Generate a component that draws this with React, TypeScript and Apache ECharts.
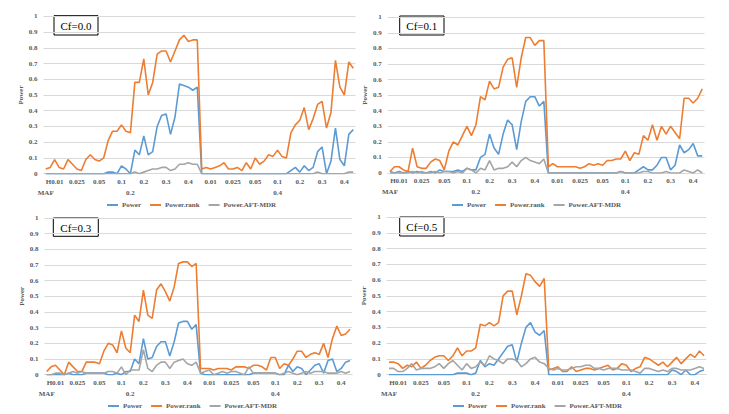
import React, { useEffect, useRef } from "react";
import * as echarts from "echarts";

// ---- data ----
const H_LEVELS = ["0.2", "0.4"];
const MAF_LEVELS = ["0.01", "0.025", "0.05", "0.1", "0.2", "0.3", "0.4"];
const POINTS_PER_MAF = 5;
const SERIES_NAMES = ["Power", "Power.rank", "Power.AFT-MDR"];
const PANEL_TITLES = ["Cf=0.0", "Cf=0.1", "Cf=0.3", "Cf=0.5"];

const cf00Power = [
  0, 0, 0, 0, 0, 0, 0, 0, 0, 0, 0, 0, 0, 0, 0.01, 0.01, 0, 0.05, 0.03, 0,
  0.15, 0.12, 0.24, 0.12, 0.14, 0.30, 0.37, 0.38, 0.25, 0.36, 0.57, 0.56, 0.55, 0.53, 0.55,
  0, 0, 0, 0, 0, 0, 0, 0, 0, 0, 0, 0, 0, 0, 0, 0, 0, 0, 0, 0,
  0.02, 0.04, 0.01, 0.05, 0.02, 0.04, 0.14, 0.17, 0, 0.08, 0.29, 0.09, 0.05, 0.25, 0.28,
];
const cf00Rank = [
  0.03, 0.04, 0.09, 0.04, 0.03, 0.09, 0.06, 0.03, 0.02, 0.09, 0.12, 0.09, 0.08, 0.10, 0.21,
  0.27, 0.27, 0.31, 0.27, 0.26, 0.58, 0.58, 0.73, 0.50, 0.58, 0.76, 0.78, 0.78, 0.71, 0.78,
  0.85, 0.88, 0.84, 0.85, 0.85,
  0.03, 0.04, 0.03, 0.04, 0.05, 0.07, 0.03, 0.03, 0.04, 0.02, 0.07, 0.03, 0.10, 0.06, 0.08,
  0.12, 0.11, 0.15, 0.11, 0.10, 0.26, 0.31, 0.34, 0.42, 0.28, 0.35, 0.44, 0.46, 0.29, 0.39,
  0.72, 0.55, 0.50, 0.71, 0.67,
];
const cf00Aft = [
  0, 0, 0, 0, 0, 0, 0, 0, 0, 0, 0, 0, 0, 0, 0, 0, 0, 0, 0, 0,
  0.01, 0, 0.01, 0.02, 0.03, 0.03, 0.04, 0.04, 0.02, 0.03, 0.06, 0.06, 0.07, 0.06, 0.06,
  0, 0, 0, 0, 0, 0, 0, 0, 0, 0, 0, 0, 0, 0, 0, 0, 0, 0, 0, 0,
  0, 0, 0, 0, 0, 0, 0.01, 0, 0, 0, 0, 0, 0, 0.01, 0.01,
];

const cf01Power = [
  0.01, 0, 0.01, 0, 0.01, 0, 0.01, 0, 0, 0.01, 0, 0.02, 0.01, 0.01, 0.01,
  0.02, 0.01, 0.03, 0.02, 0.02, 0.10, 0.12, 0.25, 0.16, 0.12, 0.25, 0.34, 0.31, 0.15, 0.33,
  0.46, 0.49, 0.49, 0.43, 0.46,
  0, 0, 0, 0, 0, 0, 0, 0, 0, 0, 0, 0, 0, 0, 0, 0, 0.01, 0, 0, 0,
  0.02, 0.04, 0.02, 0.02, 0.05, 0.10, 0.10, 0.02, 0.05, 0.18, 0.13, 0.15, 0.19, 0.11, 0.11,
];
const cf01Rank = [
  0.01, 0.04, 0.04, 0.02, 0.01, 0.16, 0.04, 0.03, 0.03, 0.07, 0.09, 0.08, 0.02, 0.14, 0.20,
  0.18, 0.24, 0.30, 0.24, 0.31, 0.49, 0.47, 0.59, 0.54, 0.55, 0.68, 0.73, 0.74, 0.55, 0.74,
  0.87, 0.87, 0.82, 0.85, 0.85,
  0.04, 0.06, 0.04, 0.04, 0.04, 0.04, 0.04, 0.03, 0.04, 0.06, 0.05, 0.06, 0.05, 0.08, 0.08,
  0.09, 0.09, 0.14, 0.08, 0.13, 0.12, 0.24, 0.21, 0.31, 0.21, 0.30, 0.25, 0.30, 0.26, 0.22,
  0.48, 0.48, 0.45, 0.48, 0.54,
];
const cf01Aft = [
  0, 0, 0, 0, 0, 0.01, 0, 0.01, 0, 0, 0.01, 0, 0.01, 0.01, 0,
  0.01, 0, 0.03, 0.02, 0, 0.03, 0.02, 0.08, 0.02, 0.03, 0.03, 0.04, 0.07, 0.04, 0.08,
  0.10, 0.08, 0.07, 0.06, 0.09,
  0, 0, 0, 0, 0, 0, 0, 0, 0, 0, 0, 0, 0, 0, 0, 0, 0.01, 0, 0, 0,
  0, 0.01, 0.01, 0, 0, 0, 0.01, 0, 0, 0, 0.02, 0.01, 0, 0.02, 0,
];

const cf03Power = [
  0, 0, 0, 0, 0, 0.01, 0, 0, 0, 0.01, 0.01, 0.01, 0.01, 0.01, 0,
  0, 0.01, 0, 0.02, 0.02, 0.10, 0.07, 0.23, 0.10, 0.11, 0.18, 0.21, 0.21, 0.12, 0.21,
  0.33, 0.34, 0.34, 0.29, 0.32,
  0.01, 0, 0, 0, 0, 0, 0, 0, 0, 0, 0, 0, 0.01, 0.01, 0.01,
  0.01, 0.01, 0.01, 0, 0, 0.06, 0.02, 0.05, 0.04, 0, 0.03, 0.06, 0.07, 0.01, 0.09,
  0.10, 0.02, 0.04, 0.08, 0.09,
];
const cf03Rank = [
  0.02, 0.05, 0.06, 0.03, 0.00, 0.08, 0.05, 0.02, 0.02, 0.08, 0.08, 0.08, 0.07, 0.15, 0.20,
  0.19, 0.14, 0.28, 0.17, 0.14, 0.38, 0.34, 0.54, 0.38, 0.36, 0.54, 0.58, 0.53, 0.47, 0.56,
  0.71, 0.72, 0.72, 0.69, 0.71,
  0.04, 0.04, 0.04, 0.03, 0.04, 0.04, 0.04, 0.03, 0.05, 0.05, 0.05, 0.04, 0.06, 0.06, 0.05,
  0.03, 0.11, 0.11, 0.04, 0.07, 0.06, 0.10, 0.15, 0.15, 0.11, 0.13, 0.14, 0.13, 0.20, 0.11,
  0.23, 0.31, 0.25, 0.26, 0.29,
];
const cf03Aft = [
  0, 0, 0.01, 0.01, 0, 0.01, 0.02, 0.01, 0.02, 0.01, 0.01, 0.01, 0.01, 0.01, 0.02,
  0.02, 0.01, 0.05, 0, 0.03, 0.03, 0.03, 0.16, 0.04, 0.02, 0.06, 0.08, 0.08, 0.04, 0.08,
  0.09, 0.10, 0.07, 0.06, 0.08,
  0.01, 0.02, 0.03, 0, 0.01, 0.02, 0.01, 0.02, 0.02, 0.01, 0, 0.05, 0.01, 0.01, 0.01,
  0.01, 0.01, 0.01, 0, 0.01, 0.02, 0.01, 0, 0.01, 0.02, 0.01, 0.02, 0.02, 0.02, 0.01,
  0.01, 0.01, 0.02, 0.01, 0.02,
];

const cf05Power = [
  0, 0, 0, 0, 0, 0, 0, 0, 0, 0, 0, 0, 0, 0, 0,
  0.01, 0.01, 0.01, 0, 0.01, 0.09, 0.05, 0.07, 0.06, 0.10, 0.14, 0.18, 0.19, 0.08, 0.20,
  0.30, 0.33, 0.27, 0.25, 0.28,
  0, 0, 0, 0, 0, 0, 0, 0, 0, 0, 0, 0, 0, 0, 0,
  0, 0, 0, 0, 0, 0, 0, 0, 0, 0, 0, 0, 0.03, 0.02, 0,
  0.03, 0, 0, 0.02, 0.03,
];
const cf05Rank = [
  0.08, 0.08, 0.07, 0.04, 0.06, 0.05, 0.08, 0.04, 0.06, 0.09, 0.11, 0.12, 0.12, 0.09, 0.12,
  0.17, 0.12, 0.15, 0.15, 0.17, 0.32, 0.31, 0.33, 0.31, 0.33, 0.50, 0.53, 0.53, 0.38, 0.50,
  0.64, 0.63, 0.59, 0.56, 0.61,
  0.03, 0.04, 0.05, 0.02, 0.02, 0.05, 0.02, 0.03, 0.04, 0.04, 0.03, 0.04, 0.05, 0.06, 0.03,
  0.04, 0.07, 0.06, 0.02, 0.04, 0.05, 0.11, 0.10, 0.08, 0.06, 0.08, 0.05, 0.08, 0.11, 0.07,
  0.10, 0.13, 0.11, 0.15, 0.12,
];
const cf05Aft = [
  0.04, 0.04, 0.02, 0.02, 0.04, 0.07, 0.03, 0.04, 0.04, 0.04, 0.05, 0.07, 0.04, 0.07, 0.09,
  0.06, 0.03, 0.07, 0.04, 0.05, 0.08, 0.06, 0.12, 0.10, 0.09, 0.07, 0.10, 0.10, 0.09, 0.05,
  0.07, 0.10, 0.11, 0.08, 0.07,
  0.04, 0.03, 0.04, 0.03, 0.03, 0.04, 0.05, 0.05, 0.06, 0.06, 0.04, 0.04, 0.03, 0.04, 0.04,
  0.04, 0.03, 0.03, 0.03, 0.02, 0.01, 0.04, 0.04, 0.03, 0.02, 0.03, 0.02, 0.04, 0.04, 0.03,
  0.03, 0.03, 0.04, 0.05, 0.04,
];

const PANEL_DATA = [
  [cf00Power, cf00Rank, cf00Aft],
  [cf01Power, cf01Rank, cf01Aft],
  [cf03Power, cf03Rank, cf03Aft],
  [cf05Power, cf05Rank, cf05Aft],
];

// ---- styling / layout ----
const COLORS = ["#5B9BD5", "#ED7D31", "#A5A5A5"];
const FONT = '"Liberation Serif", "Times New Roman", serif';
const LABEL_COLOR = "#595959";
const GRID_COLOR = "#D9D9D9";
const H_LABEL_POS = [19, 52];

const GRIDS = [
  { left: 43.5, top: 16.3, width: 312, height: 157.4 },
  { left: 387.7, top: 17.3, width: 316.8, height: 155.7 },
  { left: 44.5, top: 218, width: 307.7, height: 156.7 },
  { left: 386.7, top: 217, width: 319.6, height: 157.7 },
];
const LEGEND_POS = [
  { left: 107, top: 201.5 },
  { left: 452, top: 201.5 },
  { left: 108, top: 402.5 },
  { left: 453, top: 402.5 },
];
const TITLE_BOX = [
  { x: 54, y: 15.7, w: 44, h: 19.3 },
  { x: 399.7, y: 16, w: 44.3, h: 19 },
  { x: 53.3, y: 218, w: 45, h: 18.3 },
  { x: 399.7, y: 217, w: 44.3, h: 19 },
];

const categories = H_LEVELS.flatMap((h) =>
  MAF_LEVELS.flatMap((m) =>
    Array.from({ length: POINTS_PER_MAF }, (_, k) => `${h}|${m}|${k}`)
  )
);

const labelText = {
  fontSize: 7,
  fontWeight: "bold" as const,
  fontFamily: FONT,
  color: LABEL_COLOR,
};

function buildOption() {
  const grid: any[] = [];
  const xAxis: any[] = [];
  const yAxis: any[] = [];
  const series: any[] = [];
  const legend: any[] = [];
  const graphic: any[] = [];
  const mid = Math.floor(POINTS_PER_MAF / 2);

  GRIDS.forEach((g, p) => {
    grid.push({ ...g, containLabel: false });
    xAxis.push({
      type: "category",
      gridIndex: p,
      data: categories,
      boundaryGap: true,
      axisTick: { show: false },
      axisLine: { show: true, lineStyle: { color: GRID_COLOR, width: 1 } },
      splitLine: { show: false },
      axisLabel: {
        ...labelText,
        margin: 4.5,
        interval: (i: number) => i % POINTS_PER_MAF === mid,
        formatter: (v: string, i: number) => {
          const [h, m, k] = v.split("|");
          if (Number(k) !== mid) return "";
          return h === H_LEVELS[0] && m === MAF_LEVELS[0] ? "H" + m : m;
        },
      },
    });
    xAxis.push({
      type: "category",
      gridIndex: p,
      data: categories,
      position: "bottom",
      offset: 11,
      boundaryGap: true,
      axisTick: { show: false },
      axisLine: { show: false },
      splitLine: { show: false },
      axisLabel: {
        ...labelText,
        margin: 4.5,
        interval: (i: number) => i === 0 || H_LABEL_POS.includes(i),
        formatter: (_v: string, i: number) => {
          if (i === 0) return "MAF";
          const idx = H_LABEL_POS.indexOf(i);
          return idx >= 0 ? H_LEVELS[idx] : "";
        },
      },
    });
    yAxis.push({
      type: "value",
      gridIndex: p,
      min: 0,
      max: 1,
      interval: 0.1,
      name: "Power",
      nameLocation: "middle",
      nameGap: 19,
      nameTextStyle: { ...labelText },
      axisLine: { show: false },
      axisTick: { show: false },
      splitLine: { show: true, lineStyle: { color: GRID_COLOR, width: 1 } },
      axisLabel: {
        ...labelText,
        margin: 6,
        formatter: (v: number) => String(Math.round(v * 10) / 10),
      },
    });
    PANEL_DATA[p].forEach((arr, s) => {
      series.push({
        type: "line",
        name: SERIES_NAMES[s],
        xAxisIndex: p * 2,
        yAxisIndex: p,
        data: arr,
        symbol: "none",
        smooth: false,
        lineStyle: { color: COLORS[s], width: 1.6 },
        itemStyle: { color: COLORS[s] },
        z: 2 + s,
      });
    });
    legend.push({
      left: LEGEND_POS[p].left,
      top: LEGEND_POS[p].top,
      padding: 0,
      orient: "horizontal",
      data: SERIES_NAMES,
      icon: "rect",
      itemWidth: 11,
      itemHeight: 2,
      itemGap: 9,
      selectedMode: false,
      textStyle: { ...labelText, padding: [0, 0, 0, -1] },
    });
    const b = TITLE_BOX[p];
    graphic.push({
      type: "group",
      z: 100,
      children: [
        {
          type: "rect",
          shape: { x: b.x, y: b.y, width: b.w, height: b.h },
          style: { fill: "#ffffff", stroke: "#000000", lineWidth: 1 },
        },
        {
          type: "text",
          style: {
            text: PANEL_TITLES[p],
            x: b.x + b.w / 2,
            y: b.y + b.h / 2 + 0.5,
            fill: "#000000",
            font: `11px ${FONT}`,
            align: "center",
            verticalAlign: "middle",
            textAlign: "center",
            textVerticalAlign: "middle",
          },
        },
      ],
    });
  });

  return {
    animation: false,
    backgroundColor: "#ffffff",
    grid,
    xAxis,
    yAxis,
    series,
    legend,
    graphic,
  };
}

export default function App() {
  const ref = useRef<HTMLDivElement>(null);
  useEffect(() => {
    if (!ref.current) return;
    const chart = echarts.init(ref.current, undefined, { renderer: "svg" });
    chart.setOption(buildOption() as any);
    return () => chart.dispose();
  }, []);
  return (
    <div
      ref={ref}
      style={{ position: "fixed", left: 0, top: 0, width: 729, height: 414, background: "#fff" }}
    />
  );
}
